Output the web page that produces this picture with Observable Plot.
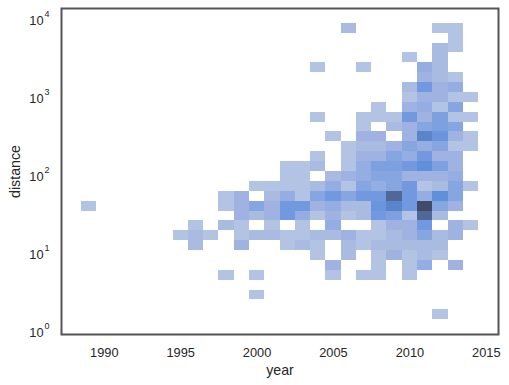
<!DOCTYPE html>
<html><head><meta charset="utf-8">
<script src="https://cdn.jsdelivr.net/npm/d3@7"></script>
<script src="https://cdn.jsdelivr.net/npm/@observablehq/plot@0.6"></script>
<style>html,body{margin:0;padding:0;background:#fff}svg{display:block}</style>
</head><body><div id="c"></div>
<script>
const distanceEdges = [1.35,1.807,2.419,3.237,4.333,5.8,7.767,10.39,13.91,18.62,24.93,33.36,44.66,59.78,80,107.1,143.4,191.9,256.9,343.8,460.2,616,824.6,1103,1478,1977,2647,3543,4743,6348,8500];
// counts per distance bin (bottom to top): {year: count}
const countsByBin = [
 {2012:1},
 {},
 {2000:1},
 {},
 {1998:1,2000:1,2005:1,2007:1,2008:1,2010:1},
 {2005:3,2008:1,2010:1,2011:4,2013:3},
 {2004:1,2006:2,2008:1,2009:3,2010:1,2011:2,2012:1},
 {1996:2,1999:3,2002:1,2003:2,2004:1,2006:2,2007:1,2008:2,2009:2,2010:2,2011:2,2012:2},
 {1995:1,1996:2,1997:1,1999:1,2000:2,2001:2,2002:1,2003:1,2004:2,2005:2,2006:3,2007:1,2008:1,2009:2,2010:3,2011:5,2012:2,2013:3},
 {1996:1,1998:2,1999:1,2001:1,2003:1,2005:4,2008:1,2009:3,2010:3,2011:7,2013:3,2014:1},
 {1999:3,2000:2,2001:3,2002:7,2003:4,2004:1,2005:3,2006:1,2007:2,2008:7,2009:6,2010:1,2011:13,2012:2},
 {1989:1,1998:1,1999:3,2000:5,2001:3,2002:7,2003:7,2004:3,2005:4,2006:2,2007:2,2008:8,2009:10,2010:7,2011:15,2012:5,2013:3},
 {1998:1,1999:3,2001:2,2002:4,2003:1,2004:5,2005:7,2006:5,2007:7,2008:7,2009:13,2010:7,2011:4,2012:9,2013:5},
 {2000:1,2001:1,2002:1,2003:1,2004:2,2005:4,2006:1,2007:5,2008:4,2009:5,2010:7,2011:1,2012:2,2013:5,2014:1},
 {2002:1,2003:1,2005:2,2006:3,2007:4,2008:5,2009:5,2010:3,2011:3,2012:3,2013:4},
 {2002:1,2003:1,2004:2,2006:1,2007:4,2008:6,2009:6,2010:7,2011:9,2012:6,2013:3},
 {2004:1,2006:1,2007:3,2008:3,2009:5,2010:4,2011:7,2012:3,2013:3},
 {2006:1,2007:2,2008:2,2009:3,2010:5,2011:4,2012:5,2013:1,2014:1},
 {2005:1,2007:3,2008:3,2010:3,2011:10,2012:8,2013:3,2014:1},
 {2007:1,2009:2,2010:3,2011:5,2012:6,2013:5},
 {2004:1,2007:1,2008:1,2009:1,2010:7,2011:3,2012:6,2013:1,2014:1},
 {2008:1,2010:3,2011:4,2012:1,2013:5},
 {2010:1,2011:3,2012:3,2013:1,2014:1},
 {2010:2,2011:7,2012:3,2013:4},
 {2011:3,2012:2,2013:1},
 {2004:1,2007:1,2011:4,2012:2},
 {2010:1,2012:2},
 {2012:2,2013:1},
 {2013:1},
 {2006:2,2012:1,2013:1}
];
const xTicks = [1990,1995,2000,2005,2010,2015];
const yTicks = [1,10,100,1000,10000];
const yExponents = ["0","1","2","3","4"];

const cells = countsByBin.flatMap((row,i)=>Object.entries(row).map(([y,c])=>({
  year:+y, count:c, d1:distanceEdges[i], d2:distanceEdges[i+1]})));
const font = "'Liberation Sans', Arial, sans-serif";
const tickData = yTicks.map((v,i)=>({v,e:yExponents[i]}));

const plot = Plot.plot({
  width:509,height:385,marginLeft:61,marginRight:11,marginTop:8,marginBottom:51,
  style:{fontFamily:font,background:"#fff",color:"#262626"},
  x:{domain:[1987.2,2015.8],ticks:xTicks,tickFormat:d=>String(d),tickSize:0,tickPadding:13,label:"year",labelAnchor:"center",labelArrow:"none",labelOffset:40},
  y:{type:"log",domain:[0.8716,13152],axis:null},
  color:{type:"linear",domain:[1,2,3,4,5,7,9,10,13,15],
    range:["#b3c3e3","#a9bbe1","#9fb2e2","#94ade2","#86a6e1","#7299df","#6090da","#5a85c8","#4f6898","#414a68"]},
  marks:[
    Plot.rect(cells,{x1:d=>d.year-0.5,x2:d=>d.year+0.5,y1:"d1",y2:"d2",fill:"count",shapeRendering:"crispEdges",inset:0}),
    Plot.frame({stroke:"#555",strokeWidth:2}),
    Plot.text(tickData,{y:"v",text:()=>"10",frameAnchor:"left",textAnchor:"end",dx:-18,dy:3.5,fontSize:12.8,fill:"#262626"}),
    Plot.text(tickData,{y:"v",text:"e",frameAnchor:"left",textAnchor:"start",dx:-17,dy:-4,fontSize:9,fill:"#262626"}),
    Plot.text(["distance"],{text:d=>d,frameAnchor:"left",textAnchor:"middle",rotate:-90,dx:-46,fontSize:14.2,fill:"#262626"})
  ]
});
plot.querySelectorAll('[aria-label="x-axis tick label"] text, [aria-label="x-axis label"] text').forEach(t=>t.setAttribute("fill","#262626"));
const tl=plot.querySelector('[aria-label="x-axis tick label"]'); if(tl){tl.setAttribute("font-size","12.8");}
const al=plot.querySelector('[aria-label="x-axis label"]'); if(al){al.setAttribute("font-size","14.2");}
document.getElementById("c").appendChild(plot);
</script></body></html>
